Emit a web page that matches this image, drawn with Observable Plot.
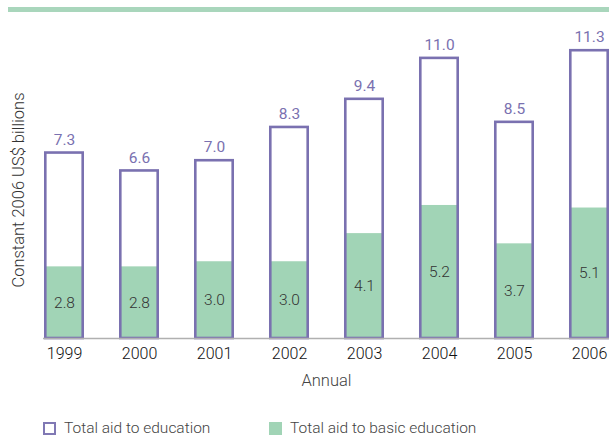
<!DOCTYPE html>
<html>
<head>
<meta charset="utf-8">
<script src="https://cdn.jsdelivr.net/npm/d3@7"></script>
<script src="https://cdn.jsdelivr.net/npm/@observablehq/plot@0.6"></script>
<style>
  html, body { margin: 0; padding: 0; background: #fff; }
  body { width: 609px; height: 436px; overflow: hidden; position: relative;
         font-family: Roboto, sans-serif; font-weight: 300; }
  #topbar { position: absolute; left: 8px; top: 7px; width: 601px; height: 5px; background: #a9d6bc; }
  #chart { position: absolute; left: 0; top: 0; }
  #chart svg text { font-weight: 300; }
  #chart svg g.vals text { font-weight: 400; }
  .legend { position: absolute; top: 418px; line-height: 20px; display: flex; align-items: center; font-size: 15.5px; color: #444; white-space: nowrap; }
  .sw { margin-right: 8px; box-sizing: border-box; width: 13px; height: 13px; flex: none; }
</style>
</head>
<body>
<div id="topbar"></div>
<div id="chart"></div>
<div class="legend" style="left:43px"><div class="sw" style="border:2.5px solid #8078b4;background:#fff"></div>Total aid to education</div>
<div class="legend" style="left:269px"><div class="sw" style="background:#a1d4b6"></div>Total aid to basic education</div>
<script>
const years = ["1999", "2000", "2001", "2002", "2003", "2004", "2005", "2006"];
const totalAid = [7.3, 6.6, 7.0, 8.3, 9.4, 11.0, 8.5, 11.3];
const basicAid = [2.8, 2.8, 3.0, 3.0, 4.1, 5.2, 3.7, 5.1];
const yLabel = "Constant 2006 US$ billions";
const xLabel = "Annual";

const data = years.map((y, i) => ({year: y, total: totalAid[i], basic: basicAid[i]}));
const purple = "#7a71b0";
const green = "#a1d4b6";

const chart = Plot.plot({
  width: 609,
  height: 400,
  marginLeft: 43,
  marginRight: 0,
  marginTop: 31,
  marginBottom: 62,
  style: {fontFamily: "Roboto, sans-serif", overflow: "visible"},
  x: {domain: years, paddingInner: 0.47, paddingOuter: 0, label: null},
  y: {domain: [0, 12], axis: null},
  marks: [
    Plot.barY(data, {x: "year", y: "total", fill: "#fff"}),
    Plot.barY(data, {x: "year", y: "basic", fill: green}),
    Plot.barY(data, {x: "year", y: "total", fill: "none", stroke: purple, strokeWidth: 2.6, insetLeft: 1.3, insetRight: 1.3, insetTop: 1.3}),
    Plot.ruleY([0], {stroke: "#b0b0b0", strokeWidth: 1.5}),
    Plot.text(data, {x: "year", y: "total", text: d => d.total.toFixed(1), lineAnchor: "bottom", dy: -7, fill: purple, fontSize: 15.5, className: "vals"}),
    Plot.text(data, {x: "year", y: d => d.basic / 2, text: d => d.basic.toFixed(1), fill: "#333", fontSize: 15.5}),
    Plot.axisX({tickSize: 0, tickPadding: 9, fontSize: 16, fill: "#111", label: null}),
    Plot.text([xLabel], {frameAnchor: "bottom", dy: 47, fill: "#444", fontSize: 16.5}),
    Plot.text([yLabel], {frameAnchor: "left", textAnchor: "middle", rotate: -90, dx: -25, dy: 5, fill: "#333", fontSize: 16.5})
  ]
});
document.getElementById("chart").appendChild(chart);
</script>
</body>
</html>
